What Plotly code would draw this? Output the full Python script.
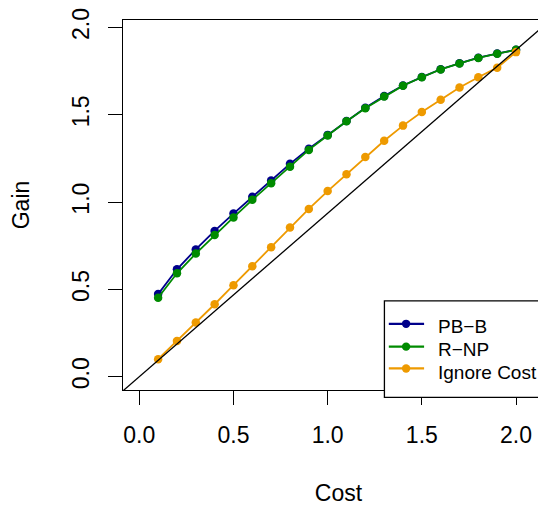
import plotly.graph_objects as go

cost = [0.1, 0.2, 0.3, 0.4, 0.5, 0.6, 0.7, 0.8, 0.9, 1.0,
        1.1, 1.2, 1.3, 1.4, 1.5, 1.6, 1.7, 1.8, 1.9, 2.0]
pb_b = [0.473, 0.615, 0.729, 0.835, 0.934, 1.030, 1.123, 1.219, 1.305, 1.385,
        1.465, 1.540, 1.607, 1.668, 1.716, 1.761, 1.795, 1.827, 1.851, 1.872]
r_np = [0.452, 0.592, 0.705, 0.811, 0.912, 1.013, 1.108, 1.203, 1.299, 1.381,
        1.463, 1.538, 1.605, 1.667, 1.715, 1.760, 1.794, 1.826, 1.850, 1.872]
ignore_cost = [0.100, 0.204, 0.310, 0.415, 0.524, 0.633, 0.742, 0.854, 0.961, 1.063,
               1.160, 1.258, 1.351, 1.438, 1.516, 1.586, 1.656, 1.715, 1.770, 1.859]
series_names = ["PB\u2212B", "R\u2212NP", "Ignore Cost"]
series_colors = ["#00008B", "#008B00", "#EE9A00"]
tick_vals = [0.0, 0.5, 1.0, 1.5, 2.0]
tick_text = ["0.0", "0.5", "1.0", "1.5", "2.0"]

x_range = [-0.0865, 2.2016]
y_range = [-0.0763, 2.043]

FONT = "Liberation Sans, Arial, Helvetica, sans-serif"

# plot-area geometry in page pixels (the page body adds an 8px margin)
PAGE_OFF = 8
PL, PR, PT, PB = 122.7, 554.0, 12.3, 390.3


def px(xw):
    return (xw - PL) / (PR - PL)


def py(yw):
    return (PB - yw) / (PB - PT)


fig = go.Figure()
for name, vals, col in zip(series_names, [pb_b, r_np, ignore_cost], series_colors):
    fig.add_trace(go.Scatter(x=cost, y=vals, name=name, mode="lines+markers",
                             line=dict(color=col, width=1.8),
                             marker=dict(color=col, size=8.5, line=dict(width=0)),
                             showlegend=False))

slope = pb_b[-1] / cost[-1]
fig.add_trace(go.Scatter(x=x_range, y=[slope * v for v in x_range], mode="lines",
                         line=dict(color="black", width=1.3), showlegend=False,
                         hoverinfo="skip"))

axis_common = dict(showgrid=False, zeroline=False, showline=True, linecolor="black",
                   linewidth=1.3, ticks="outside", ticklen=14, tickwidth=1.3,
                   tickcolor="black", tickvals=tick_vals, ticktext=tick_text,
                   ticklabeloverflow="allow",
                   tickfont=dict(family=FONT, size=23, color="black"))

# legend drawn in the R style: box, line samples with points, labels
shapes = [dict(type="rect", xref="paper", yref="paper", x0=px(384.3), x1=1.1,
               y0=-0.02, y1=py(299.3), line=dict(color="black", width=1.3),
               fillcolor="white", layer="above")]
annotations = []
entry_y = [322.7, 346.0, 368.3]
text_y = [325.3, 348.7, 372.3]
for name, col, ly, ty in zip(series_names, series_colors, entry_y, text_y):
    shapes.append(dict(type="line", xref="paper", yref="paper", x0=px(388.7), x1=px(424.0),
                       y0=py(ly), y1=py(ly), line=dict(color=col, width=2.2), layer="above"))
    shapes.append(dict(type="circle", xref="paper", yref="paper", xsizemode="pixel",
                       ysizemode="pixel", xanchor=px(406.0), yanchor=py(ly),
                       x0=-4.2, x1=4.2, y0=-4.2, y1=4.2, fillcolor=col, line=dict(width=0),
                       layer="above"))
    annotations.append(dict(xref="paper", yref="paper", x=px(435.5), y=py(ty),
                            xanchor="left", yanchor="middle", showarrow=False, text=name,
                            font=dict(family=FONT, size=19, color="black")))

fig.update_layout(
    width=546, height=506,
    margin=dict(l=PL - PAGE_OFF, r=0, t=PT - PAGE_OFF, b=506 - (PB - PAGE_OFF)),
    paper_bgcolor="white", plot_bgcolor="white",
    xaxis=dict(range=x_range, mirror=True, ticklabelstandoff=10,
               title=dict(text="Cost", font=dict(family=FONT, size=23, color="black"),
                          standoff=38),
               **axis_common),
    yaxis=dict(range=y_range, mirror=False, tickangle=-90, ticklabelstandoff=10,
               title=dict(text="Gain", font=dict(family=FONT, size=23, color="black"),
                          standoff=33),
               **axis_common),
    shapes=shapes,
    annotations=annotations,
    showlegend=False,
)

fig.write_html("out.html")
